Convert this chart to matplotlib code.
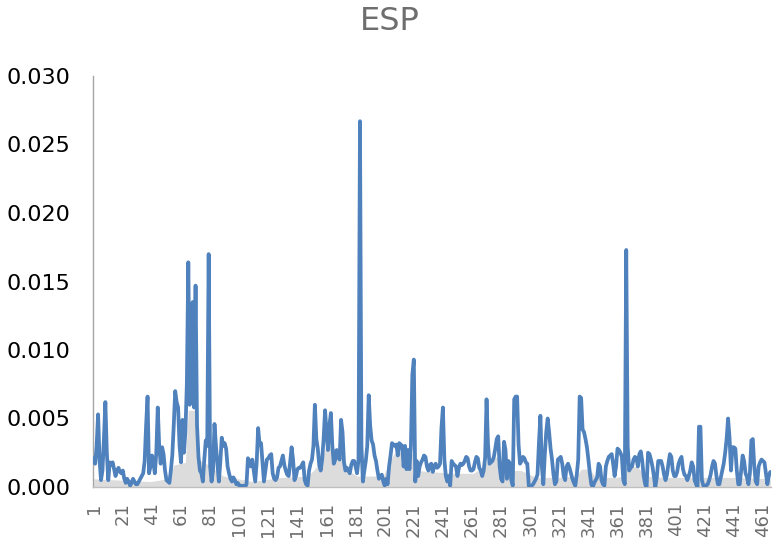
import matplotlib
matplotlib.use("Agg")
import matplotlib.pyplot as plt
import numpy as np

title = "ESP"

# Main series (blue line), one value per observation 1..466
esp_1_55 = [0.0021, 0.0017, 0.0030, 0.0053, 0.0020, 0.0005, 0.0012, 0.0035, 0.0062, 0.0025,
            0.0005, 0.0018, 0.0016, 0.0018, 0.0013, 0.0008, 0.0012, 0.0014, 0.0011, 0.0010,
            0.0012, 0.0006, 0.0003, 0.0006, 0.0004, 0.0001, 0.0003, 0.0006, 0.0004, 0.0002,
            0.0002, 0.0004, 0.0006, 0.0008, 0.0010, 0.0019, 0.0045, 0.0066, 0.0010, 0.0015,
            0.0023, 0.0018, 0.0010, 0.0025, 0.0058, 0.0030, 0.0017, 0.0029, 0.0024, 0.0012,
            0.0005, 0.0004, 0.0003, 0.0012, 0.0023]
esp_56_119 = [0.0045, 0.0070, 0.0062, 0.0058, 0.0030, 0.0018, 0.0049, 0.0025, 0.0040, 0.0075,
              0.0164, 0.0060, 0.0102, 0.0135, 0.0058, 0.0147, 0.0045, 0.0022, 0.0012, 0.0010,
              0.0004, 0.0020, 0.0034, 0.0030, 0.0170, 0.0015, 0.0004, 0.0012, 0.0046, 0.0030,
              0.0017, 0.0004, 0.0018, 0.0036, 0.0030, 0.0032, 0.0028, 0.0015, 0.0010, 0.0006,
              0.0004, 0.0007, 0.0005, 0.0002, 0.0003, 0.0001, 0.0001, 0.0000, 0.0001, 0.0000,
              0.0002, 0.0021, 0.0019, 0.0015, 0.0020, 0.0012, 0.0004, 0.0018, 0.0043, 0.0031,
              0.0032, 0.0018, 0.0004, 0.0012]
esp_120_184 = [0.0020, 0.0021, 0.0023, 0.0024, 0.0010, 0.0006, 0.0005, 0.0007, 0.0014, 0.0015,
               0.0019, 0.0023, 0.0016, 0.0012, 0.0009, 0.0008, 0.0018, 0.0029, 0.0020, 0.0005,
               0.0008, 0.0013, 0.0014, 0.0014, 0.0016, 0.0018, 0.0005, 0.0002, 0.0001, 0.0012,
               0.0017, 0.0020, 0.0030, 0.0060, 0.0035, 0.0028, 0.0016, 0.0012, 0.0020, 0.0035,
               0.0056, 0.0040, 0.0027, 0.0045, 0.0054, 0.0030, 0.0017, 0.0020, 0.0027, 0.0023,
               0.0020, 0.0049, 0.0040, 0.0018, 0.0012, 0.0014, 0.0012, 0.0010, 0.0016, 0.0019,
               0.0019, 0.0015, 0.0010, 0.0020, 0.0267]
esp_185_294 = [0.0030, 0.0004, 0.0012, 0.0019, 0.0030, 0.0067, 0.0045, 0.0034, 0.0031, 0.0023,
               0.0019, 0.0012, 0.0006, 0.0008, 0.0009, 0.0004, 0.0001, 0.0006, 0.0002, 0.0015,
               0.0023, 0.0032, 0.0031, 0.0030, 0.0031, 0.0023, 0.0032, 0.0031, 0.0030, 0.0015,
               0.0030, 0.0013, 0.0027, 0.0013, 0.0030, 0.0082, 0.0093, 0.0004, 0.0019, 0.0008,
               0.0015, 0.0018, 0.0020, 0.0023, 0.0022, 0.0015, 0.0012, 0.0016, 0.0017, 0.0011,
               0.0015, 0.0017, 0.0014, 0.0015, 0.0017, 0.0043, 0.0058, 0.0020, 0.0008, 0.0004,
               0.0008, 0.0001, 0.0019, 0.0017, 0.0016, 0.0015, 0.0008, 0.0014, 0.0017, 0.0016,
               0.0017, 0.0019, 0.0022, 0.0021, 0.0015, 0.0012, 0.0012, 0.0013, 0.0018, 0.0022,
               0.0021, 0.0014, 0.0012, 0.0008, 0.0012, 0.0021, 0.0064, 0.0031, 0.0017, 0.0018,
               0.0019, 0.0022, 0.0028, 0.0035, 0.0037, 0.0015, 0.0006, 0.0004, 0.0033, 0.0027,
               0.0006, 0.0019, 0.0017, 0.0005, 0.0001, 0.0064, 0.0066, 0.0066, 0.0031, 0.0017]
esp_295_466 = [0.0019, 0.0022, 0.0021, 0.0018, 0.0017, 0.0001, 0.0000, 0.0001, 0.0002, 0.0004,
               0.0006, 0.0009, 0.0032, 0.0052, 0.0015, 0.0002, 0.0023, 0.0040, 0.0050, 0.0040,
               0.0028, 0.0020, 0.0009, 0.0002, 0.0004, 0.0020, 0.0021, 0.0022, 0.0017, 0.0008,
               0.0005, 0.0015, 0.0017, 0.0014, 0.0010, 0.0006, 0.0003, 0.0001, 0.0009, 0.0020,
               0.0066, 0.0065, 0.0042, 0.0040, 0.0035, 0.0029, 0.0020, 0.0010, 0.0002, 0.0000,
               0.0003, 0.0005, 0.0007, 0.0017, 0.0015, 0.0005, 0.0002, 0.0001, 0.0015, 0.0019,
               0.0022, 0.0023, 0.0024, 0.0017, 0.0008, 0.0015, 0.0028, 0.0027, 0.0025, 0.0022,
               0.0005, 0.0002, 0.0173, 0.0030, 0.0012, 0.0014, 0.0015, 0.0020, 0.0022, 0.0021,
               0.0015, 0.0024, 0.0026, 0.0019, 0.0008, 0.0002, 0.0000, 0.0025, 0.0024, 0.0020,
               0.0015, 0.0008, 0.0000, 0.0007, 0.0019, 0.0019, 0.0019, 0.0015, 0.0009, 0.0005,
               0.0009, 0.0017, 0.0024, 0.0022, 0.0012, 0.0008, 0.0008, 0.0011, 0.0017, 0.0020,
               0.0022, 0.0013, 0.0009, 0.0008, 0.0005, 0.0008, 0.0012, 0.0018, 0.0015, 0.0005,
               0.0002, 0.0000, 0.0044, 0.0044, 0.0005, 0.0001, 0.0001, 0.0001, 0.0002, 0.0005,
               0.0009, 0.0015, 0.0019, 0.0017, 0.0008, 0.0002, 0.0002, 0.0007, 0.0012, 0.0017,
               0.0025, 0.0035, 0.0050, 0.0036, 0.0012, 0.0029, 0.0029, 0.0028, 0.0012, 0.0002,
               0.0002, 0.0012, 0.0023, 0.0019, 0.0010, 0.0007, 0.0002, 0.0010, 0.0034, 0.0035,
               0.0015, 0.0004, 0.0002, 0.0015, 0.0018, 0.0020, 0.0019, 0.0018, 0.0010, 0.0002,
               0.0008, 0.0011]

# Light grey background area series (coarse reading)
shade_idx = [1, 20, 40, 52, 56, 64, 66, 71, 73, 80, 90, 110, 130, 148, 152, 158, 161, 166,
             172, 176, 182, 200, 205, 208, 215, 220, 223, 235, 250, 262, 268, 273, 278, 283,
             288, 295, 305, 320, 333, 336, 342, 346, 360, 366, 368, 375, 379, 395, 420, 440, 466]
shade_vals = [0.0006, 0.0005, 0.0004, 0.0006, 0.0016, 0.0018, 0.0056, 0.0056, 0.0020, 0.0016,
              0.0008, 0.0004, 0.0007, 0.0008, 0.0012, 0.0020, 0.0032, 0.0028, 0.0025, 0.0012,
              0.0008, 0.0008, 0.0020, 0.0025, 0.0026, 0.0024, 0.0012, 0.0011, 0.0010, 0.0010,
              0.0014, 0.0020, 0.0022, 0.0018, 0.0012, 0.0012, 0.0007, 0.0007, 0.0008, 0.0013,
              0.0013, 0.0007, 0.0007, 0.0008, 0.0015, 0.0015, 0.0008, 0.0007, 0.0007, 0.0007,
              0.0006]

x_tick_labels = [str(v) for v in range(1, 462, 20)]
y_ticks = [0.000, 0.005, 0.010, 0.015, 0.020, 0.025, 0.030]

esp = esp_1_55 + esp_56_119 + esp_120_184 + esp_185_294 + esp_295_466
n = len(esp)
x = np.arange(1, n + 1)

fig = plt.figure(figsize=(7.79, 5.40), dpi=100)
ax = fig.add_axes([93 / 779, 53 / 540, (771 - 93) / 779, (487 - 76) / 540])

ax.fill_between(shade_idx, shade_vals, 0, color="#dcdcdc", lw=0, zorder=1)
ax.plot(x, esp, color="#4F81BD", lw=2.7, solid_joinstyle="round",
        solid_capstyle="round", zorder=3)

ax.set_xlim(0.5, n + 0.5)
ax.set_ylim(0, 0.030)
ax.set_yticks(y_ticks)
ax.set_yticklabels([f"{v:.3f}" for v in y_ticks], fontsize=16, color="black")
ax.set_xticks([int(s) for s in x_tick_labels])
ax.set_xticklabels(x_tick_labels, rotation=90, fontsize=13, color="#6e6e6e")
ax.tick_params(axis="both", length=0)
ax.tick_params(axis="x", pad=11)
ax.tick_params(axis="y", pad=16)

for side in ["top", "right"]:
    ax.spines[side].set_visible(False)
ax.spines["left"].set_color("#a6a6a6")
ax.spines["bottom"].set_color("#bfbfbf")
ax.spines["left"].set_linewidth(1.0)
ax.spines["bottom"].set_linewidth(1.0)

fig.text(0.5, 1 - 22 / 540, title, ha="center", va="center", fontsize=23, color="#6e6e6e")

fig.savefig("out.png", dpi=100)
